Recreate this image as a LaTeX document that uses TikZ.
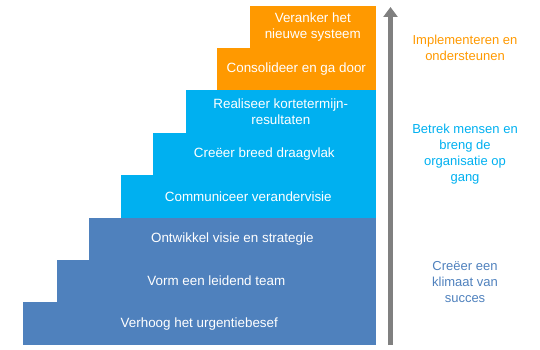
\documentclass[tikz,border=0pt]{standalone}
\usepackage{fontspec}
\setmainfont{Liberation Sans}
\usetikzlibrary{arrows.meta}
\definecolor{dblue}{HTML}{4F81BD}
\definecolor{lblue}{HTML}{00B0F0}
\definecolor{orng}{HTML}{FF9900}
\definecolor{agray}{HTML}{808080}
\begin{document}
\begin{tikzpicture}[x=1pt,y=-1pt,
  stepbox/.style={draw=none, inner sep=0pt, anchor=south east, minimum height=42.4pt,
    text=white, align=center, font=\fontsize{13.4}{16}\selectfont},
  sidelabel/.style={inner sep=0pt, align=center, font=\fontsize{13}{16}\selectfont}]
\useasboundingbox (0,0) rectangle (540,350);
% steps from bottom to top
\node[stepbox, fill=dblue, minimum width=353pt] (s1) at (376,345) {Verhoog het urgentiebesef};
\node[stepbox, fill=dblue, minimum width=319pt] (s2) at (376,302.6) {Vorm een leidend team};
\node[stepbox, fill=dblue, minimum width=287pt] (s3) at (376,260.2) {Ontwikkel visie en strategie};
\node[stepbox, fill=lblue, minimum width=255pt] (s4) at (376,217.8) {Communiceer verandervisie};
\node[stepbox, fill=lblue, minimum width=223pt] (s5) at (376,175.4) {Creëer breed draagvlak};
\node[stepbox, fill=lblue, minimum width=190pt] (s6) at (376,133) {Realiseer kortetermijn-\\resultaten};
\node[stepbox, fill=orng, minimum width=159pt] (s7) at (376,90.6) {Consolideer en ga door};
\node[stepbox, fill=orng, minimum width=126pt] (s8) at (376,48.2) {Veranker het\\nieuwe systeem};
% arrow
\coordinate (ab) at (390.5,345);
\coordinate (at) at (390.5,7);
\draw[agray, line width=4.5pt, -{Triangle[width=14pt,length=10pt]}] (ab) -- (at);
% side labels
\node[sidelabel, text=orng] (l1) at (465,48) {Implementeren en\\ondersteunen};
\node[sidelabel, text=lblue] (l2) at (465,154) {Betrek mensen en\\breng de\\organisatie op\\gang};
\node[sidelabel, text=dblue] (l3) at (465,282) {Creëer een\\klimaat van\\succes};
\end{tikzpicture}
\end{document}
